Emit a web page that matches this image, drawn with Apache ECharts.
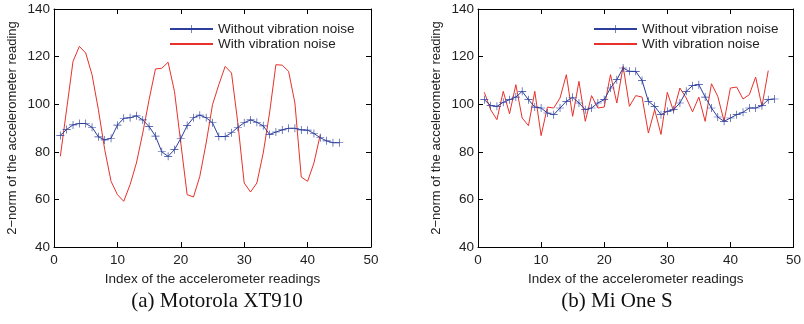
<!DOCTYPE html>
<html>
<head>
<meta charset="utf-8">
<script src="https://cdn.jsdelivr.net/npm/echarts@6/dist/echarts.min.js"></script>
<style>
  html, body { margin: 0; padding: 0; background: #fff; }
  #chart { width: 804px; height: 324px; }
</style>
</head>
<body>
<div id="chart"></div>
<script>
// readings, index starts at 1
const motoWithout = [86.9, 89.4, 91.3, 91.9, 91.9, 90.3, 86.3, 85.0, 85.7, 91.2,
  94.1, 94.3, 95.1, 93.4, 90.6, 86.6, 80.0, 78.1, 80.9, 85.6,
  91.0, 94.3, 95.4, 94.3, 92.2, 86.4, 86.4, 88.0, 90.3, 92.2,
  93.4, 92.4, 90.9, 87.3, 88.3, 89.2, 89.9, 89.9, 89.2, 89.1,
  87.7, 85.9, 84.6, 83.8, 83.8]
const motoWith = [78.1, 98.0, 118.0, 124.3, 121.5, 112.4, 97.7, 80.9, 67.6, 62.0,
  59.2, 66.2, 75.3, 87.9, 101.9, 114.8, 115.1, 117.6, 105.4, 83.7,
  62.0, 61.0, 69.7, 83.7, 99.8, 108.2, 115.9, 113.1, 92.0, 66.9,
  63.1, 66.9, 79.5, 96.3, 116.6, 116.4, 113.8, 100.5, 69.4, 67.6,
  75.3, 87.2]
const miWithout = [101.9, 99.4, 99.1, 100.8, 101.9, 103.0, 105.4, 101.9, 98.8, 98.4,
  96.3, 95.6, 98.4, 101.2, 102.9, 100.5, 97.7, 98.4, 100.5, 101.9,
  106.8, 110.3, 115.2, 113.8, 113.8, 110.0, 101.2, 99.1, 95.6, 97.0,
  97.7, 100.5, 105.4, 107.8, 108.2, 103.0, 98.4, 94.6, 92.8, 94.2,
  95.6, 96.6, 98.4, 98.4, 99.4, 101.9, 102.2]
const miWith = [105.0, 97.7, 93.5, 105.4, 96.0, 108.2, 94.2, 91.0, 105.4, 86.8,
  98.8, 98.4, 102.6, 112.4, 94.9, 109.6, 92.8, 103.6, 98.4, 98.8,
  112.4, 100.5, 115.9, 99.1, 103.6, 103.0, 87.9, 97.7, 87.3, 105.0,
  97.0, 106.8, 102.6, 96.8, 103.0, 92.8, 108.6, 103.3, 92.8, 106.8,
  107.2, 102.2, 104.0, 111.4, 99.1, 114.1]

const xTicks = [0, 10, 20, 30, 40, 50]
const yTicks = [40, 60, 80, 100, 120, 140]
const seriesNames = ['Without vibration noise', 'With vibration noise']
const captions = ['(a) Motorola XT910', '(b) Mi One S']

const BLUE = '#2c3f9c'
const RED = '#e8312a'
const PLUS = 'path://M4.6,0H5.4V4.6H10V5.4H5.4V10H4.6V5.4H0V4.6H4.6Z'
const FONT = 'Liberation Sans'

const toPoints = arr => arr.map((v, i) => [i + 1, v])

const chart = echarts.init(document.getElementById('chart'))

const gridLefts = [54, 478]

const makeX = (gi, pos) => ({
  type: 'value',
  gridIndex: gi,
  position: pos,
  min: xTicks[0],
  max: xTicks[xTicks.length - 1],
  interval: 10,
  name: pos === 'bottom' ? 'Index of the accelerometer readings' : '',
  nameLocation: 'middle',
  nameGap: 21,
  nameTextStyle: { fontFamily: FONT, fontSize: 13.5, color: '#222' },
  axisLine: { show: true, onZero: false, lineStyle: { color: '#000', width: 1 } },
  axisTick: { show: true, inside: true, length: 5, lineStyle: { color: '#000' } },
  axisLabel: { show: pos === 'bottom', margin: 6, fontFamily: FONT, fontSize: 13.5, color: '#222' },
  splitLine: { show: false },
})

const makeY = (gi, pos) => ({
  type: 'value',
  gridIndex: gi,
  position: pos,
  min: yTicks[0],
  max: yTicks[yTicks.length - 1],
  interval: 20,
  name: pos === 'left' ? '2−norm of the accelerometer reading' : '',
  nameLocation: 'middle',
  nameGap: 35,
  nameRotate: 90,
  nameTextStyle: { fontFamily: FONT, fontSize: 13, color: '#222' },
  axisLine: { show: true, onZero: false, lineStyle: { color: '#000', width: 1 } },
  axisTick: { show: true, inside: true, length: 5, lineStyle: { color: '#000' } },
  axisLabel: { show: pos === 'left', margin: 4, fontFamily: FONT, fontSize: 13.5, color: '#222' },
  splitLine: { show: false },
})

const blueSeries = (data, gi) => ({
  name: seriesNames[0],
  type: 'line',
  xAxisIndex: gi * 2,
  yAxisIndex: gi * 2,
  data: toPoints(data),
  symbol: PLUS,
  symbolSize: 8,
  lineStyle: { color: BLUE, width: 1 },
  itemStyle: { color: BLUE },
  animation: false,
  z: 3,
})

const redSeries = (data, gi) => ({
  name: seriesNames[1],
  type: 'line',
  xAxisIndex: gi * 2,
  yAxisIndex: gi * 2,
  data: toPoints(data),
  symbol: 'none',
  lineStyle: { color: RED, width: 1 },
  itemStyle: { color: RED },
  animation: false,
  z: 2,
})

const option = {
  backgroundColor: '#fff',
  animation: false,
  title: [
    { text: captions[0], left: 212, top: 286, textAlign: 'center',
      textStyle: { fontFamily: 'Liberation Serif', fontSize: 21, fontWeight: 'normal', color: '#111' } },
    { text: captions[1], left: 612, top: 286, textAlign: 'center',
      textStyle: { fontFamily: 'Liberation Serif', fontSize: 21, fontWeight: 'normal', color: '#111' } },
  ],
  legend: gridLefts.map(l => ({
    data: [
      { name: seriesNames[0] },
      { name: seriesNames[1], itemStyle: { opacity: 0 } },
    ],
    orient: 'vertical',
    left: l + 110,
    top: 17,
    itemWidth: 43,
    itemHeight: 10,
    itemGap: 1,
    textStyle: { fontFamily: FONT, fontSize: 13.5, color: '#222' },
    selectedMode: false,
  })),
  grid: gridLefts.map(l => ({ left: l, top: 9, width: 317, height: 238, containLabel: false })),
  xAxis: [makeX(0, 'bottom'), makeX(0, 'top'), makeX(1, 'bottom'), makeX(1, 'top')],
  yAxis: [makeY(0, 'left'), makeY(0, 'right'), makeY(1, 'left'), makeY(1, 'right')],
  series: [
    redSeries(motoWith, 0),
    blueSeries(motoWithout, 0),
    redSeries(miWith, 1),
    blueSeries(miWithout, 1),
  ],
}

chart.setOption(option)
</script>
</body>
</html>
